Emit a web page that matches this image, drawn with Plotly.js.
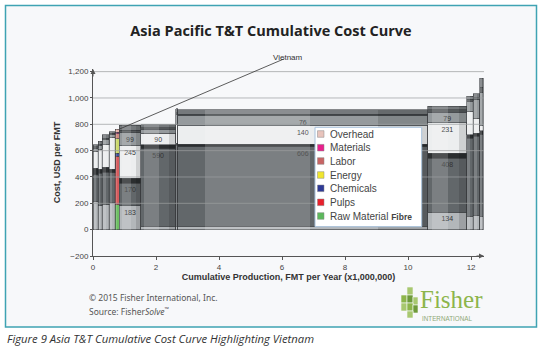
<!DOCTYPE html>
<html><head><meta charset="utf-8">
<script src="https://cdn.plot.ly/plotly-3.0.1.min.js"></script>
<style>html,body{margin:0;padding:0;background:#fff;}#chart{width:542px;height:351px;}</style>
</head><body><div id="chart"></div>
<script>
// ---- data ----
const producers = ['P1','P2','P3','P4','Vietnam','P6','P7','P8','P9','P10','P11','P12','P13'];
const capacity  = [0.17,0.12,0.22,0.19,0.14,0.67,1.12,0.06,7.94,1.23,0.21,0.21,0.10];
const rawFibre  = [215,180,190,205,190,183, 25, 25, 25,134,100,108,100];
const pulps     = [203,250,245,228,366,170,590,615,606,408,596,600,620];
const chemicals = [ 50, 30, 38, 25, 25, 38, 28, 18, 18, 38, 25, 25, 30];
const energy    = [127,150,170,243,108,245, 90,140,140,231,177,114, 40];
const labor     = [ 25, 30, 40, 20, 40, 99, 30, 76, 76, 79, 76,139,250];
const materials = [ 10, 10, 10, 10, 12, 20, 12, 15, 12, 20, 15, 20, 40];
const overhead  = [ 15, 20, 28, 13, 23, 37, 22, 29, 34, 26, 23, 25, 71];
const components = ['Raw Material Fibre','Pulps','Chemicals','Energy','Labor','Materials','Overhead'];
const highlight = 'Vietnam';
const xTicks = [0,2,4,6,8,10,12];
const yTicks = [-200,0,200,400,600,800,1000,1200];

// ---- styles ----
const series = [rawFibre,pulps,chemicals,energy,labor,materials,overhead];
const grayCols = ['#b3b7ba','#62676a','#2b2e30','#eceeef','#959a9d','#54585a','#75797c'];
const hiCols   = ['#6cbf62','#d65a5c','#4050a0','#cbd96a','#cf8a80','#e0409a','#e6b3aa'];
const legCols  = ['#5cb85c','#e8202c','#2e3a96','#f0e62e','#c86464','#e8208c','#e8c4bc'];

const W=542,H=351,L=93,R=484,T=69,B=256;
const XMAX=12.41;
const px2x = p => (p-L)/(R-L);
const py2y = p => (B-p)/(B-T);

let cum=0; const centers=[], rights=[];
capacity.forEach(w=>{centers.push(cum+w/2); cum+=w; rights.push(cum);});
const totals = producers.map((_,i)=>series.reduce((s,a)=>s+a[i],0));
const hi = producers.indexOf(highlight);

const traces = series.map((vals,k)=>({
  type:'bar', name:components[k], x:centers, y:vals, width:capacity,
  marker:{color:producers.map((p,i)=>i===hi?hiCols[k]:grayCols[k]),
          line:{color:'#3c4042',width:0.6}},
  text: vals.map((v,i)=>(capacity[i]>=0.6 && v>=70)?String(v):''),
  textposition:'inside', insidetextanchor:'end', textangle:0, constraintext:'none',
  textfont:{family:'Liberation Sans, Arial',size:7,color:'#333'},
  showlegend:false, hoverinfo:'skip'
}));
// cylinder shading overlays (derived from the same bars)
traces.push({type:'bar',yaxis:'y2',x:centers.map((c,i)=>c-capacity[i]*0.18),y:totals,width:capacity.map(w=>w*0.42),
  marker:{color:'rgba(255,255,255,0.16)',line:{width:0}},showlegend:false,hoverinfo:'skip'});
traces.push({type:'bar',yaxis:'y2',x:centers.map((c,i)=>c+capacity[i]*0.4),y:totals,width:capacity.map(w=>w*0.2),
  marker:{color:'rgba(0,0,0,0.12)',line:{width:0}},showlegend:false,hoverinfo:'skip'});

const shapes = [];
shapes.push({type:'rect',xref:'paper',yref:'paper',x0:px2x(5.5),x1:px2x(536.5),y0:py2y(327),y1:py2y(5.5),
  line:{color:'#3fa3b3',width:1.5},fillcolor:'#f7f8fa',layer:'below'});
yTicks.filter(v=>v>0).forEach(v=>shapes.push({type:'line',xref:'paper',yref:'y',x0:0,x1:1,y0:v,y1:v,
  line:{color:'rgba(155,158,160,0.72)',width:1},layer:'above'}));
const legTop=127.3, legBot=226.7, legL=315, legR=421.7;
shapes.push({type:'rect',xref:'paper',yref:'paper',x0:px2x(legL),x1:px2x(legR),y0:py2y(legBot),y1:py2y(legTop),
  line:{color:'#a8c2dc',width:1},fillcolor:'#ffffff',layer:'above'});
const rowY=[134,147.7,161,175,188.3,202.3,216];
const legOrder=[6,5,4,3,2,1,0];
const annotations=[];
legOrder.forEach((k,r)=>{
  shapes.push({type:'rect',xref:'paper',yref:'paper',x0:px2x(317.5),x1:px2x(324),y0:py2y(rowY[r]+3.3),y1:py2y(rowY[r]-3.3),
    line:{color:'#888',width:0.5},fillcolor:legCols[k],layer:'above'});
  const txt = components[k]==='Raw Material Fibre' ? 'Raw Material <b><span style="font-size:8.5px">Fibre</span></b>' : components[k];
  annotations.push({xref:'paper',yref:'paper',x:px2x(327.5),y:py2y(rowY[r]),xanchor:'left',yanchor:'middle',
    text:txt,showarrow:false,font:{family:'Liberation Sans, Arial',size:10,color:'#444'}});
});
const blk=[[407,287,413,295,'#a8c870'],[401,295,407,303,'#8db54b'],[407,295,413,303,'#6e9a3a'],[413,297,418,305,'#a8c870'],
  [401,303,407,311,'#a8c870'],[407,303,413,311,'#8db54b'],[413,305,418,313,'#6e9a3a'],[407,311,413,318,'#a8c870']];
blk.forEach(b=>shapes.push({type:'rect',xref:'paper',yref:'paper',x0:px2x(b[0]),x1:px2x(b[2]),y0:py2y(b[3]),y1:py2y(b[1]),
  line:{color:'#f7f8fa',width:0.6},fillcolor:b[4],layer:'above'}));

annotations.push({xref:'paper',yref:'paper',x:0,y:1,ax:0,ay:9,text:'',showarrow:true,arrowhead:2,arrowsize:1,arrowwidth:1,arrowcolor:'#555'});
annotations.push({xref:'paper',yref:'paper',x:1,y:0,ax:-9,ay:0,text:'',showarrow:true,arrowhead:2,arrowsize:1,arrowwidth:1,arrowcolor:'#555'});
annotations.push({xref:'x',yref:'y',x:rights[hi],y:totals[hi],ax:286-(L+rights[hi]*(R-L)/XMAX),ay:-71,text:'',
  showarrow:true,arrowhead:0,arrowwidth:0.8,arrowcolor:'#333'});
annotations.push({xref:'paper',yref:'paper',x:px2x(288),y:py2y(51),text:highlight,showarrow:false,
  font:{family:'Liberation Sans, Arial',size:8,color:'#333'}});
annotations.push({xref:'paper',yref:'paper',x:px2x(87),y:py2y(297),xanchor:'left',yanchor:'middle',showarrow:false,
  text:'© 2015 Fisher International, Inc.',font:{family:'Noto Sans',size:8.5,color:'#555'}});
annotations.push({xref:'paper',yref:'paper',x:px2x(87),y:py2y(310.5),xanchor:'left',yanchor:'middle',showarrow:false,
  text:'Source: Fisher<i>Solve</i><sup>™</sup>',font:{family:'Noto Sans',size:8.5,color:'#555'}});
annotations.push({xref:'paper',yref:'paper',x:px2x(418),y:py2y(299),xanchor:'left',yanchor:'middle',showarrow:false,
  text:'Fisher',font:{family:'Liberation Serif, Times New Roman',size:25,color:'#8db54b'}});
annotations.push({xref:'paper',yref:'paper',x:px2x(420),y:py2y(318),xanchor:'left',yanchor:'middle',showarrow:false,
  text:'INTERNATIONAL',font:{family:'Liberation Sans, Arial',size:6.3,color:'#8fa878'}});
annotations.push({xref:'paper',yref:'paper',x:px2x(5),y:py2y(338.5),xanchor:'left',yanchor:'middle',showarrow:false,
  text:'<i>Figure 9 Asia T&T Cumulative Cost Curve Highlighting Vietnam</i>',font:{family:'Open Sans',size:11.3,color:'#333'}});

const layout = {
  width:W,height:H,margin:{l:L,r:W-R,t:T,b:H-B,pad:0},
  paper_bgcolor:'#ffffff',plot_bgcolor:'rgba(0,0,0,0)',
  barmode:'stack',
  title:{text:'<b>Asia Pacific T&T Cumulative Cost Curve</b>',font:{family:'Open Sans',size:14.5,color:'#222'},
    xref:'container',yref:'container',x:0.5,xanchor:'center',y:1-31/H,yanchor:'middle'},
  xaxis:{range:[0,XMAX],tickvals:xTicks,showgrid:false,zeroline:false,showline:true,linecolor:'#555',linewidth:1,
    ticks:'outside',ticklen:3,tickcolor:'#555',tickfont:{family:'Liberation Sans, Arial',size:8,color:'#444'},
    title:{text:'<b>Cumulative Production, FMT per Year (x1,000,000)</b>',standoff:3,
      font:{family:'Liberation Sans, Arial',size:9,color:'#333'}},fixedrange:true},
  yaxis:{range:[-200,1220],tickvals:yTicks,tickformat:',d',showgrid:false,zeroline:false,showline:true,linecolor:'#555',linewidth:1,
    ticks:'outside',ticklen:2,tickcolor:'#555',tickfont:{family:'Liberation Sans, Arial',size:8,color:'#444'},
    title:{text:'<b>Cost, USD per FMT</b>',standoff:6,font:{family:'Liberation Sans, Arial',size:9,color:'#333'}},fixedrange:true},
  yaxis2:{overlaying:'y',range:[-200,1220],visible:false,fixedrange:true},
  shapes:shapes, annotations:annotations, showlegend:false
};
Plotly.newPlot('chart',traces,layout,{staticPlot:true,displayModeBar:false});
</script></body></html>
